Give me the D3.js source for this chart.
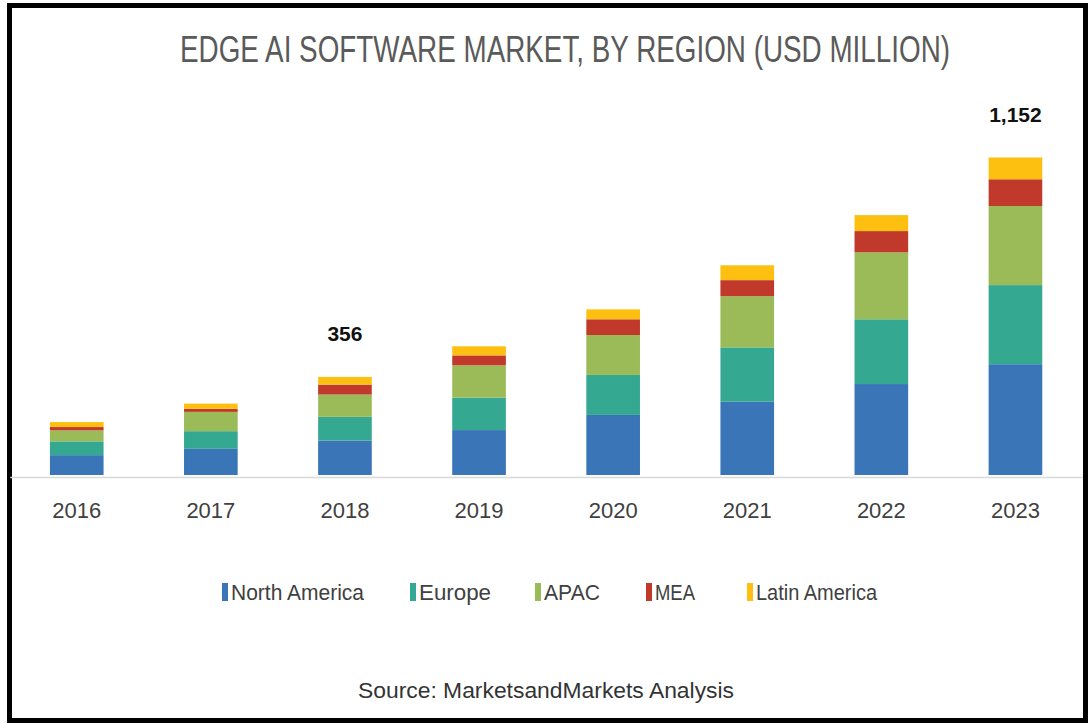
<!DOCTYPE html>
<html>
<head>
<meta charset="utf-8">
<script src="https://cdn.jsdelivr.net/npm/d3@7"></script>
<style>
  html, body { margin: 0; padding: 0; background: #fff; }
  svg { display: block; }
  text { font-family: "Liberation Sans Narrow", "Liberation Sans", Arial, sans-serif; }
</style>
</head>
<body>
<svg id="chart" width="1091" height="724"></svg>
<script>
// Edge AI software market by region, USD million
const years = ["2016", "2017", "2018", "2019", "2020", "2021", "2022", "2023"];
const regions = ["North America", "Europe", "APAC", "MEA", "Latin America"];
const northAmerica = [72, 95, 125, 163, 218, 266, 330, 402];
const europe       = [50, 64, 86, 118, 145, 197, 235, 287];
const apac         = [40, 70, 81, 117, 145, 186, 243, 287];
const mea          = [12, 11, 36, 36, 57, 58, 77, 97];
const latinAmerica = [18, 19, 28, 33, 36, 54, 58, 79];
const regionColors = ["#3a75b8", "#35a892", "#9bbb59", "#c0392b", "#fdc010"];
// Totals are printed only for these years
const labelledYears = ["2018", "2023"];

const seriesValues = [northAmerica, europe, apac, mea, latinAmerica];
const rows = years.map((y, i) => {
  const r = { year: y };
  regions.forEach((name, k) => { r[name] = seriesValues[k][i]; });
  r.total = d3.sum(seriesValues, s => s[i]);
  return r;
});

const svg = d3.select("#chart");

// outer frame
svg.append("rect")
  .attr("x", 9.5).attr("y", 5.5)
  .attr("width", 1076).attr("height", 715)
  .attr("fill", "#fff")
  .attr("stroke", "#000").attr("stroke-width", 5);

// title, drawn condensed and slightly stretched vertically
svg.append("text")
  .attr("transform", "translate(565,62) scale(1,1.2)")
  .attr("text-anchor", "middle")
  .attr("font-size", 30)
  .attr("fill", "#5a5a5a")
  .attr("textLength", 770).attr("lengthAdjust", "spacingAndGlyphs")
  .text("EDGE AI SOFTWARE MARKET, BY REGION (USD MILLION)");

const x = d3.scaleBand()
  .domain(years)
  .range([9.7, 1082.5])
  .paddingInner(0.6)
  .paddingOuter(0.3);

const y = d3.scaleLinear()
  .domain([0, d3.max(rows, d => d.total)])
  .range([475, 157.5]);

const stack = d3.stack().keys(regions);
const layers = stack(rows);

svg.append("g")
  .selectAll("g")
  .data(layers)
  .join("g")
  .attr("fill", (d, i) => regionColors[i])
  .selectAll("rect")
  .data(d => d)
  .join("rect")
  .attr("x", d => x(d.data.year))
  .attr("width", x.bandwidth())
  .attr("y", d => y(d[1]))
  .attr("height", d => y(d[0]) - y(d[1]));

// x axis
const axis = svg.append("g")
  .attr("transform", "translate(0,477)")
  .call(d3.axisBottom(x).tickSize(0).tickPadding(25));
axis.select(".domain").attr("stroke", "#d9d9d9").attr("stroke-width", 1.5);
axis.selectAll(".tick text")
  .attr("font-size", 22)
  .attr("fill", "#404040")
  .attr("font-family", "\"Liberation Sans Narrow\", \"Liberation Sans\", Arial, sans-serif");

// total labels
const fmt = d3.format(",");
svg.append("g")
  .selectAll("text")
  .data(rows.filter(r => labelledYears.includes(r.year)))
  .join("text")
  .attr("x", d => x(d.year) + x.bandwidth() / 2)
  .attr("y", d => y(d.total) - 36)
  .attr("text-anchor", "middle")
  .attr("font-size", 21)
  .attr("font-weight", "bold")
  .attr("fill", "#111")
  .text(d => fmt(d.total));

// legend
const legendX = [222, 410, 535, 646, 747];
const legendW = [133, 72, 56, 40, 121];
const legend = svg.append("g")
  .selectAll("g")
  .data(regions)
  .join("g")
  .attr("transform", (d, i) => `translate(${legendX[i]},583)`);
legend.append("rect")
  .attr("width", 6).attr("height", 18)
  .attr("fill", (d, i) => regionColors[i]);
legend.append("text")
  .attr("x", 9).attr("y", 17)
  .attr("font-size", 22)
  .attr("fill", "#404040")
  .attr("textLength", (d, i) => legendW[i])
  .attr("lengthAdjust", "spacingAndGlyphs")
  .text(d => d);

// source note
svg.append("text")
  .attr("x", 546).attr("y", 698)
  .attr("text-anchor", "middle")
  .attr("font-size", 22)
  .attr("fill", "#333")
  .attr("textLength", 376).attr("lengthAdjust", "spacingAndGlyphs")
  .text("Source: MarketsandMarkets Analysis");
</script>
</body>
</html>
